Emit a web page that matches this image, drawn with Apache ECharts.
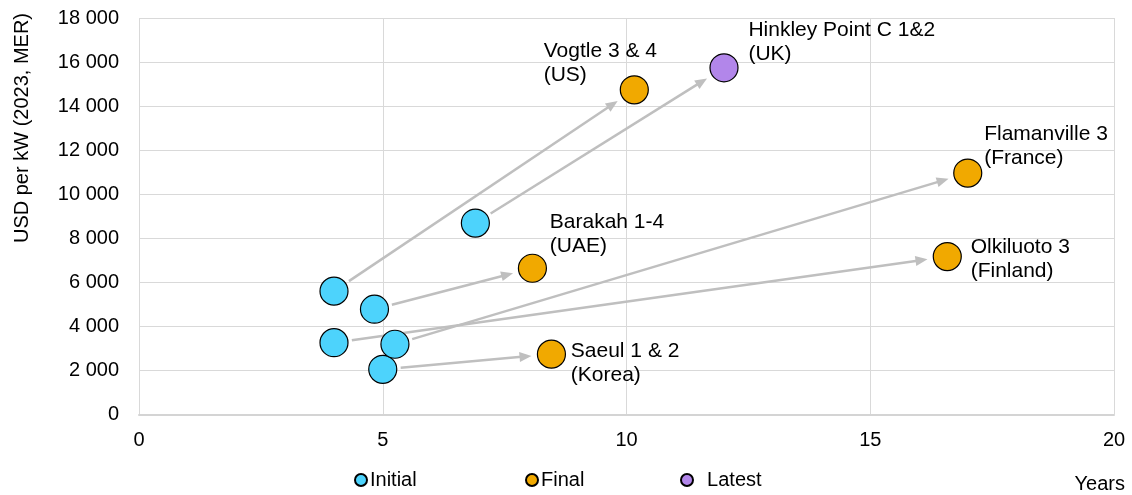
<!DOCTYPE html>
<html>
<head>
<meta charset="utf-8">
<script src="https://cdn.jsdelivr.net/npm/echarts@6/dist/echarts.min.js"></script>
<style>
html,body{margin:0;padding:0;background:#fff;}
#chart{width:1132px;height:495px;}
</style>
</head>
<body>
<div id="chart"></div>
<script>
// ---- Data ----
const projects = ['Saeul 1 & 2\n(Korea)', 'Vogtle 3 & 4\n(US)', 'Barakah 1-4\n(UAE)', 'Olkiluoto 3\n(Finland)', 'Flamanville 3\n(France)', 'Hinkley Point C 1&2\n(UK)'];
const initialYears = [5.0, 4.0, 4.83, 4.0, 5.25, 6.9];
const initialCost  = [2050, 5600, 4780, 3260, 3190, 8690];
const finalYears   = [8.46, 10.16, 8.07, 16.58, 17.0, 12.0];
const finalCost    = [2740, 14740, 6640, 7170, 10960, 15740];
// which end-state series each project belongs to
const endSeries    = ['Final', 'Final', 'Final', 'Final', 'Final', 'Latest'];
const xTicks = [0, 5, 10, 15, 20];
const yTicks = [0, 2000, 4000, 6000, 8000, 10000, 12000, 14000, 16000, 18000];

// ---- Styling (not data) ----
const colors = {Initial: '#4dd3fc', Final: '#f1a900', Latest: '#b286ea'};
const labelPos = {
  'Saeul 1 & 2\n(Korea)': [34, 0],
  'Vogtle 3 & 4\n(US)': [-76, -36],
  'Barakah 1-4\n(UAE)': [32, -43],
  'Olkiluoto 3\n(Finland)': [38, -7],
  'Flamanville 3\n(France)': [31, -36],
  'Hinkley Point C 1&2\n(UK)': [39, -35]
};
const FONT = 'Liberation Sans, Arial, sans-serif';

const initialData = initialYears.map((x, i) => [x, initialCost[i]]);
function endData(name) {
  const out = [];
  projects.forEach((p, i) => {
    if (endSeries[i] === name) {
      out.push({
        value: [finalYears[i], finalCost[i]],
        label: {show: true, formatter: p, position: labelPos[p], align: 'left', verticalAlign: 'top'}
      });
    }
  });
  return out;
}
const arrowData = projects.map((p, i) => [initialYears[i], initialCost[i], finalYears[i], finalCost[i]]);

function renderArrow(params, api) {
  const p0 = api.coord([api.value(0), api.value(1)]);
  const p1 = api.coord([api.value(2), api.value(3)]);
  const dx = p1[0] - p0[0], dy = p1[1] - p0[1];
  const len = Math.sqrt(dx * dx + dy * dy);
  const ux = dx / len, uy = dy / len;
  const nx = -uy, ny = ux;
  const s = [p0[0] + ux * 18, p0[1] + uy * 18];
  const t = [p1[0] - ux * 20, p1[1] - uy * 20];
  const L = 12, W = 10;
  const b = [t[0] - ux * L, t[1] - uy * L];
  const col = '#bfbfbf';
  return {
    type: 'group',
    children: [
      {type: 'line', shape: {x1: s[0], y1: s[1], x2: b[0] + ux * 2, y2: b[1] + uy * 2},
       style: {stroke: col, lineWidth: 2.5}},
      {type: 'polygon', shape: {points: [t, [b[0] + nx * W / 2, b[1] + ny * W / 2], [b[0] - nx * W / 2, b[1] - ny * W / 2]]},
       style: {fill: col}}
    ]
  };
}

const chart = echarts.init(document.getElementById('chart'), null, {renderer: 'canvas'});
const labelStyle = {fontFamily: FONT, fontSize: 21, color: '#000', lineHeight: 24};
const symBorder = {borderColor: '#000', borderWidth: 1.2, opacity: 1};
const legendText = {fontSize: 20, fontFamily: FONT, color: '#000', padding: [0, 0, 0, -2]};

chart.setOption({
  animation: false,
  textStyle: {fontFamily: FONT},
  grid: {left: 139, right: 18, top: 18, bottom: 80.5, containLabel: false},
  xAxis: {
    type: 'value', min: xTicks[0], max: xTicks[xTicks.length - 1], interval: 5,
    axisLine: {show: true, lineStyle: {color: '#d4d4d4', width: 2}},
    axisTick: {show: false},
    axisLabel: {color: '#000', fontSize: 20, fontFamily: FONT, margin: 16},
    splitLine: {show: true, lineStyle: {color: '#d9d9d9', width: 1}}
  },
  yAxis: {
    type: 'value', min: yTicks[0], max: yTicks[yTicks.length - 1], interval: 2000,
    axisLine: {show: false},
    axisTick: {show: false},
    axisLabel: {color: '#000', fontSize: 20, fontFamily: FONT, margin: 20,
      formatter: v => v >= 1000 ? Math.floor(v / 1000) + ' ' + String(v % 1000).padStart(3, '0') : String(v)},
    splitLine: {show: true, lineStyle: {color: '#d9d9d9', width: 1}}
  },
  legend: [
    {data: ['Initial'], left: 349, top: 465, itemWidth: 12, itemHeight: 12, itemGap: 0, textStyle: legendText},
    {data: ['Final'], left: 520, top: 465, itemWidth: 12, itemHeight: 12, itemGap: 0, textStyle: legendText},
    {data: ['Latest'], left: 675, top: 465, itemWidth: 12, itemHeight: 12, itemGap: 0,
     formatter: n => '  ' + n, textStyle: legendText}
  ],
  graphic: [
    {type: 'text', right: 7, top: 474, style: {text: 'Years', font: '20px ' + FONT, fill: '#000'}},
    {type: 'text', left: 12, top: 13, rotation: Math.PI / 2, originX: 0, originY: 0,
     style: {text: 'USD per kW (2023, MER)', font: '20px ' + FONT, fill: '#000', align: 'center', verticalAlign: 'middle'}}
  ],
  series: [
    {type: 'custom', name: 'arrows', renderItem: renderArrow, data: arrowData, z: 1, silent: true,
     encode: {x: [0, 2], y: [1, 3]}},
    {type: 'scatter', name: 'Initial', data: initialData, symbolSize: 28, z: 3,
     itemStyle: Object.assign({color: colors.Initial}, symBorder)},
    {type: 'scatter', name: 'Final', data: endData('Final'), symbolSize: 28, z: 3,
     itemStyle: Object.assign({color: colors.Final}, symBorder), label: labelStyle},
    {type: 'scatter', name: 'Latest', data: endData('Latest'), symbolSize: 28, z: 3,
     itemStyle: Object.assign({color: colors.Latest}, symBorder), label: labelStyle}
  ]
});
</script>
</body>
</html>
